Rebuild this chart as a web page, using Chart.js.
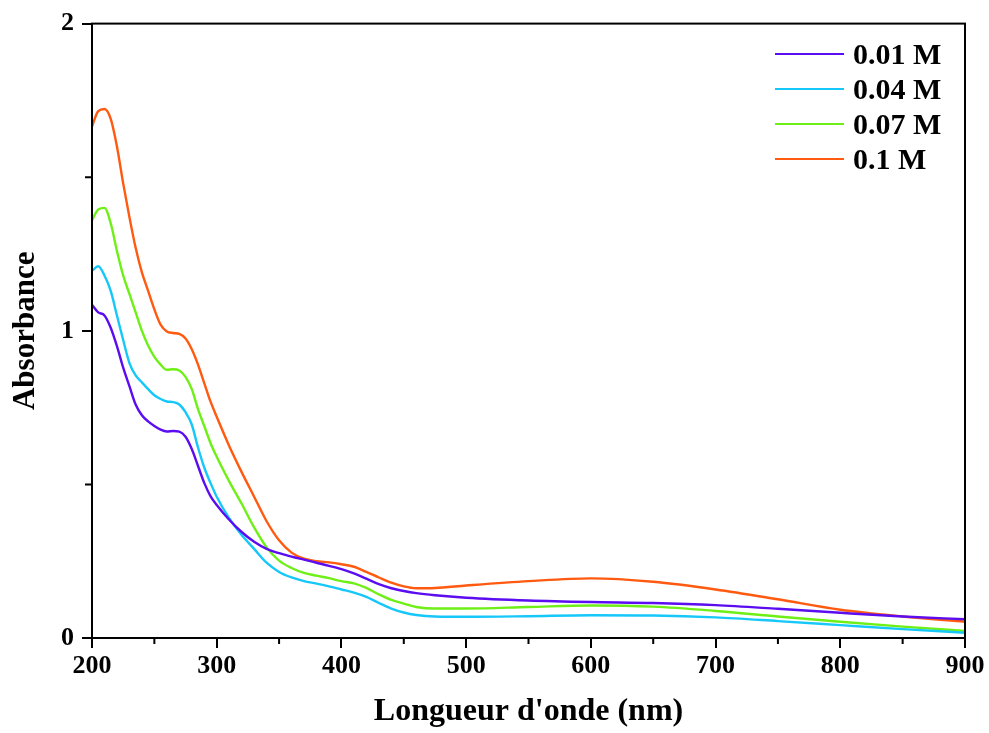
<!DOCTYPE html>
<html>
<head>
<meta charset="utf-8">
<script src="https://cdn.jsdelivr.net/npm/chart.js@4.4.1/dist/chart.umd.min.js"></script>
<style>
  body { margin: 0; background: #fff; }
  #wrap { position: relative; width: 989px; height: 733px; }
  #legend { position: absolute; left: 775px; top: 36px; font-family: "Liberation Serif", "Times New Roman", serif; font-weight: bold; font-size: 30px; color: #000; }
  #legend .row { height: 35px; display: flex; align-items: center; }
  #legend .swatch { width: 69px; height: 2px; margin-right: 9px; }
</style>
</head>
<body>
<div id="wrap">
  <canvas id="uvChart" width="989" height="733"></canvas>
  <div id="legend"></div>
</div>
<script>
// wavelength grid (nm)
const wavelengths = [200, 205, 210, 215, 220, 225, 230, 235, 240, 245, 250, 255, 260, 265, 270, 275, 280, 285, 290, 295,
  300, 310, 320, 330, 340, 350, 360, 370, 380, 390, 400, 410, 420, 430, 440, 450, 460, 475, 500, 550, 600, 650, 700, 750, 800, 850, 900];

// absorbance
const abs001 = [1.085, 1.06, 1.05, 1.01, 0.95, 0.88, 0.82, 0.76, 0.725, 0.705, 0.69, 0.678, 0.672, 0.674, 0.672, 0.655, 0.615, 0.56, 0.505, 0.462,
  0.433, 0.385, 0.345, 0.313, 0.29, 0.276, 0.265, 0.255, 0.245, 0.235, 0.224, 0.21, 0.193, 0.175, 0.162, 0.153, 0.146, 0.139, 0.131, 0.122, 0.117, 0.114, 0.107, 0.095, 0.082, 0.07, 0.061];
const abs004 = [1.195, 1.21, 1.18, 1.13, 1.05, 0.97, 0.895, 0.855, 0.832, 0.81, 0.79, 0.778, 0.77, 0.768, 0.76, 0.735, 0.695, 0.62, 0.555, 0.505,
  0.46, 0.39, 0.335, 0.29, 0.245, 0.215, 0.197, 0.185, 0.177, 0.168, 0.158, 0.148, 0.134, 0.114, 0.096, 0.083, 0.075, 0.07, 0.069, 0.071, 0.074, 0.073, 0.067, 0.055, 0.042, 0.029, 0.017];
const abs007 = [1.36, 1.395, 1.40, 1.35, 1.26, 1.18, 1.12, 1.06, 1.0, 0.952, 0.915, 0.89, 0.873, 0.875, 0.871, 0.85, 0.81, 0.745, 0.69, 0.635,
  0.59, 0.51, 0.437, 0.36, 0.295, 0.252, 0.228, 0.212, 0.203, 0.195, 0.185, 0.178, 0.163, 0.142, 0.124, 0.112, 0.101, 0.096, 0.096, 0.101, 0.106, 0.102, 0.088, 0.07, 0.053, 0.037, 0.023];
const abs01 = [1.665, 1.715, 1.722, 1.69, 1.60, 1.48, 1.37, 1.27, 1.19, 1.13, 1.07, 1.02, 0.998, 0.993, 0.99, 0.975, 0.94, 0.89, 0.83, 0.77,
  0.72, 0.625, 0.54, 0.46, 0.38, 0.318, 0.278, 0.258, 0.25, 0.246, 0.24, 0.232, 0.215, 0.197, 0.18, 0.168, 0.162, 0.163, 0.171, 0.185, 0.194, 0.183, 0.158, 0.126, 0.092, 0.07, 0.053];

const seriesLabels = ["0.01 M", "0.04 M", "0.07 M", "0.1 M"];
const seriesColors = ["#5b0cf0", "#16c8fa", "#6ef016", "#ff5a10"];
const seriesValues = [abs001, abs004, abs007, abs01];

const serif = "'Liberation Serif', 'Times New Roman', serif";

// box round the plot + minor ticks
const frameAndMinorTicks = {
  id: "frameAndMinorTicks",
  afterDraw(chart) {
    const { ctx, chartArea: { left, right, top, bottom }, scales: { x, y } } = chart;
    ctx.save();
    ctx.strokeStyle = "#000";
    ctx.lineWidth = 2;
    ctx.strokeRect(left, top, right - left, bottom - top);
    ctx.beginPath();
    for (let v = 250; v < 900; v += 100) {
      const px = x.getPixelForValue(v);
      ctx.moveTo(px, bottom);
      ctx.lineTo(px, bottom + 6);
    }
    [0.5, 1.5].forEach((v) => {
      const py = y.getPixelForValue(v);
      ctx.moveTo(left, py);
      ctx.lineTo(left - 7, py);
    });
    ctx.stroke();
    ctx.restore();
  },
};

const chart = new Chart(document.getElementById("uvChart").getContext("2d"), {
  type: "line",
  data: {
    datasets: seriesLabels.map((label, i) => ({
      label: label,
      data: wavelengths.map((w, j) => ({ x: w, y: seriesValues[i][j] })),
      borderColor: seriesColors[i],
      backgroundColor: seriesColors[i],
      borderWidth: 2.4,
      pointRadius: 0,
      cubicInterpolationMode: "monotone",
      fill: false,
    })),
  },
  options: {
    responsive: false,
    animation: false,
    layout: { padding: { left: 0, top: 19, right: 24, bottom: 0 } },
    scales: {
      x: {
        type: "linear",
        min: 200,
        max: 900,
        ticks: { stepSize: 100, color: "#000", padding: 3, font: { family: serif, size: 26, weight: "bold" } },
        grid: { drawOnChartArea: false, drawTicks: true, tickLength: 10, color: "#000", lineWidth: 2 },
        border: { display: true, color: "#000", width: 2 },
        title: { display: true, text: "Longueur d'onde (nm)", color: "#000", padding: { top: 0, bottom: 2 }, font: { family: serif, size: 32, weight: "bold" } },
        afterFit: (scale) => { scale.height = 95; },
      },
      y: {
        min: 0,
        max: 2,
        ticks: { stepSize: 1, color: "#000", padding: 8, font: { family: serif, size: 26, weight: "bold" } },
        grid: { drawOnChartArea: false, drawTicks: true, tickLength: 10, color: "#000", lineWidth: 2 },
        border: { display: true, color: "#000", width: 2 },
        title: { display: true, text: "Absorbance", color: "#000", padding: { top: 7, bottom: 7 }, font: { family: serif, size: 31, weight: "bold" } },
        afterFit: (scale) => { scale.width = 92; },
      },
    },
    plugins: {
      legend: { display: false },
      tooltip: { enabled: false },
    },
  },
  plugins: [frameAndMinorTicks],
});

// legend built from the datasets
document.getElementById("legend").innerHTML = chart.data.datasets
  .map((d) => `<div class="row"><span class="swatch" style="background:${d.borderColor}"></span>${d.label}</div>`)
  .join("");
</script>
</body>
</html>
